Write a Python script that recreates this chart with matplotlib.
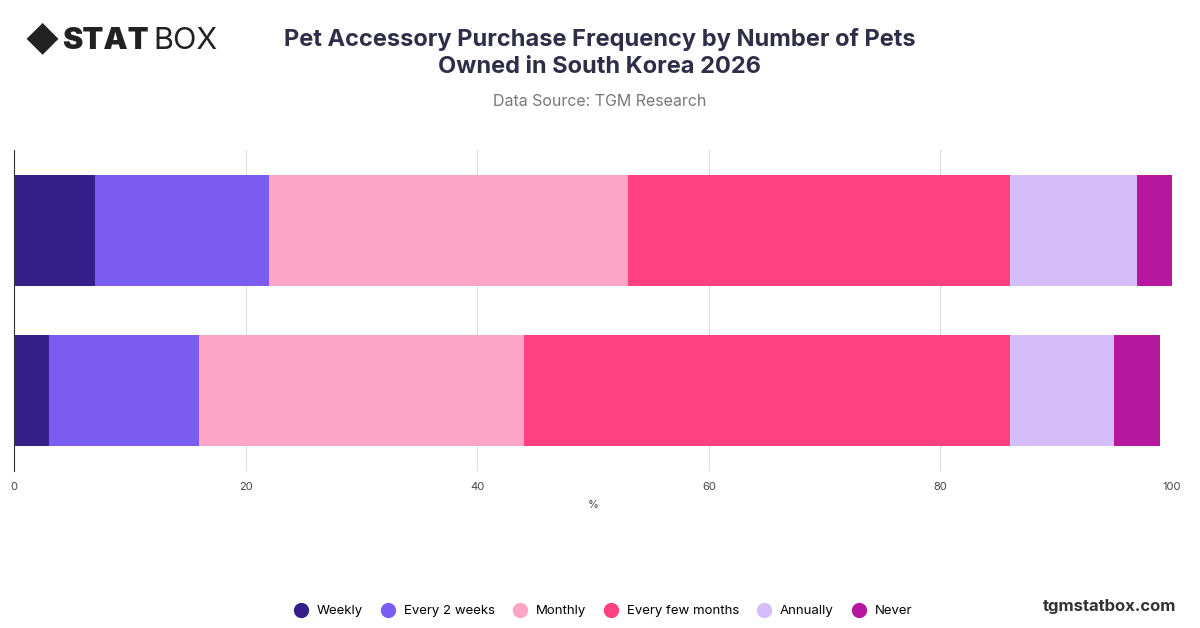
import matplotlib
matplotlib.use("Agg")
import matplotlib.pyplot as plt
import matplotlib.lines as mlines
import numpy as np

categories = ["1 pet", "2+ pets"]
series = ["Weekly", "Every 2 weeks", "Monthly", "Every few months", "Annually", "Never"]
values = {
    "Weekly": [7, 3],
    "Every 2 weeks": [15, 13],
    "Monthly": [31, 28],
    "Every few months": [33, 42],
    "Annually": [11, 9],
    "Never": [3, 4],
}
colors = ["#35208a", "#7b5cf0", "#fca5c5", "#ff4081", "#d4bdfa", "#b5179e"]
xticks = [0, 20, 40, 60, 80, 100]

plt.rcParams['font.family'] = ['Inter', 'DejaVu Sans']
fig = plt.figure(figsize=(12, 6.28), dpi=100)
ax = fig.add_axes([0.0117, 0.25, 0.965, 0.511])
y = np.arange(len(categories))
left = np.zeros(len(categories))
for s, c in zip(series, colors):
    v = np.array(values[s], dtype=float)
    ax.barh(y, v, left=left, color=c, height=0.69, label=s)
    left += v
ax.set_ylim(len(categories) - 0.5, -0.5)
ax.set_xlim(0, 100)
ax.set_xticks(xticks)
ax.tick_params(axis='x', labelsize=8, colors='#444444', length=0, pad=8)
ax.set_yticks([])
ax.grid(axis='x', color='#dddddd', linewidth=0.8)
ax.set_axisbelow(True)
for sp in ['top', 'right']:
    ax.spines[sp].set_visible(False)
ax.spines['bottom'].set_visible(False)
ax.spines['left'].set_color('#333333')
ax.set_xlabel('%', fontsize=8, color='#444444', labelpad=6)

fig.text(0.5, 0.915, "Pet Accessory Purchase Frequency by Number of Pets\nOwned in South Korea 2026",
         ha='center', va='center', fontsize=17, fontweight='bold', color='#2e2e48', linespacing=1.3)
fig.text(0.5, 0.838, "Data Source: TGM Research", ha='center', va='center', fontsize=11.5, color='#777777')
fig.text(0.052, 0.935, "STAT", ha='left', va='center', fontsize=22, fontweight='black', color='#222222')
fig.text(0.128, 0.935, "BOX", ha='left', va='center', fontsize=22, color='#222222')
fig.text(0.035, 0.935, "◆", ha='center', va='center', fontsize=24, color='#222222')
fig.text(0.98, 0.034, "tgmstatbox.com", ha='right', va='center', fontsize=12, fontweight='bold', color='#333333')

hs = [mlines.Line2D([], [], marker='o', linestyle='', markersize=10, color=c) for c in colors]
fig.legend(hs, series, loc='center', bbox_to_anchor=(0.5, 0.027), ncol=6, frameon=False,
           fontsize=9.5, handletextpad=0.2, columnspacing=0.9)
fig.savefig("out.png", dpi=100)
